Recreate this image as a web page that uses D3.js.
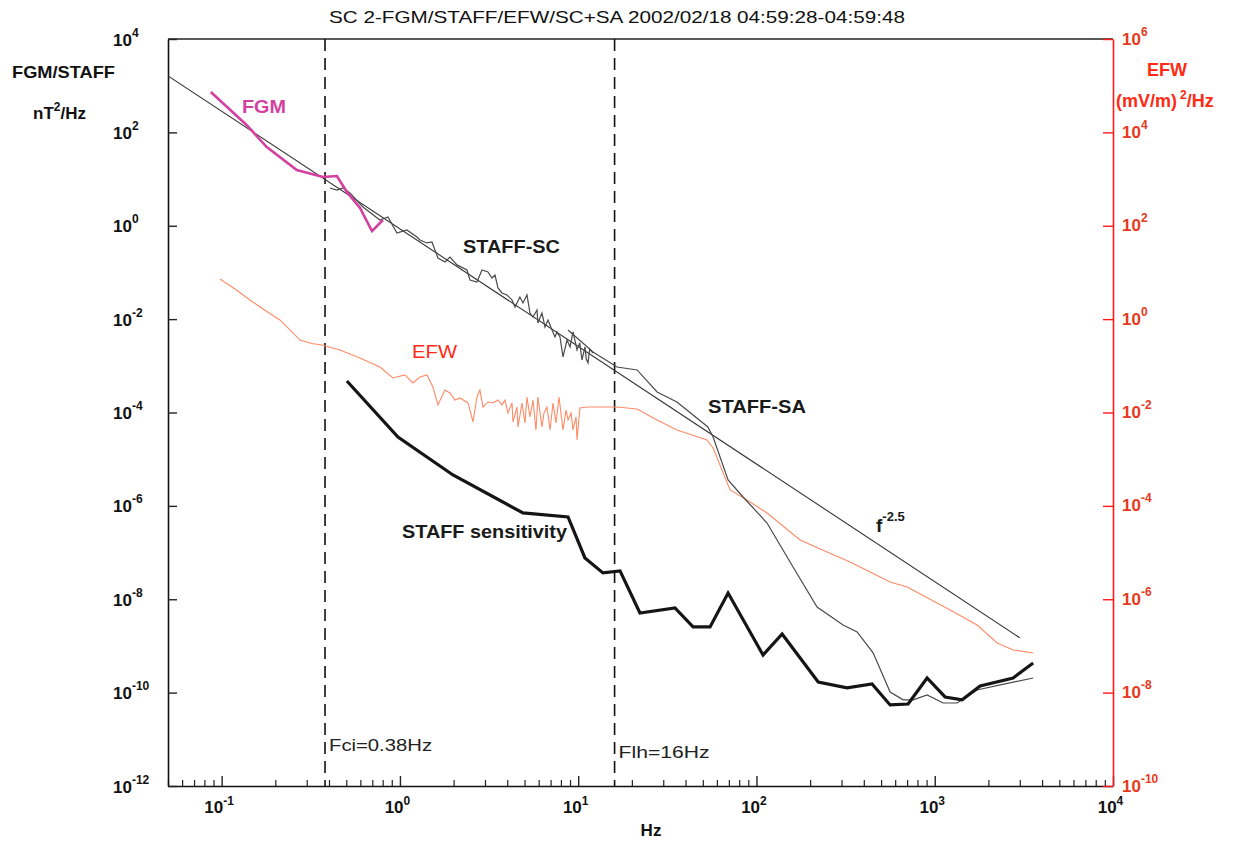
<!DOCTYPE html>
<html><head><meta charset="utf-8">
<script src="https://cdn.jsdelivr.net/npm/d3@7"></script>
<style>
body{margin:0;background:#fff}
svg{display:block}
text{font-family:"Liberation Sans",Arial,Helvetica,sans-serif}
</style>
</head><body>
<svg id="c" width="1234" height="841"></svg>
<script>
// ---------- data (frequency in Hz, spectral power) ----------
const xTickExps = [-1, 0, 1, 2, 3, 4];
const yLeftExps = [4, 2, 0, -2, -4, -6, -8, -10, -12];
const yRightExps = [6, 4, 2, 0, -2, -4, -6, -8, -10];
const markerFreqs = [0.38, 16];
const markerLabels = ["Fci=0.38Hz", "Flh=16Hz"];

const fgmFreq  = [0.0869, 0.138, 0.179, 0.264, 0.370, 0.443, 0.504, 0.597, 0.697, 0.803];
const fgmPower = [733, 144, 48.6, 15.6, 11.1, 11.6, 5.3, 2.4, 0.77, 1.33];

const lawFreq  = [0.05, 3000];
const lawPower = [1620, 1.5e-9];

const scFreq  = [0.405, 0.443, 0.479, 0.524, 0.620, 0.772, 0.857, 0.962, 1.094, 1.245, 1.295, 1.418, 1.513, 1.572, 1.634, 1.789, 1.909, 2.089, 2.377, 2.472, 2.705, 2.886, 3.118, 3.283, 3.413, 3.548, 3.736, 3.985, 4.254, 4.420, 4.710, 4.898, 5.160, 5.365, 5.576, 5.873, 5.943, 6.264, 6.511, 6.769, 7.129, 7.410, 7.603, 7.905, 8.218, 8.655, 8.997, 9.353, 9.850, 10.20, 10.50, 10.91, 11.10, 11.35, 11.60, 11.95, 12.11];
const scPower = [6.44, 5.83, 6.44, 5.03, 2.52, 1.33, 1.54, 0.70, 0.811, 0.574, 0.495, 0.428, 0.449, 0.303, 0.204, 0.168, 0.214, 0.145, 0.113, 0.0689, 0.0624, 0.113, 0.102, 0.076, 0.0882, 0.0465, 0.0363, 0.0329, 0.0257, 0.0182, 0.0298, 0.0222, 0.0329, 0.0135, 0.0111, 0.0157, 0.00826, 0.0135, 0.00679, 0.0096, 0.00585, 0.00414, 0.00531, 0.00414, 0.00155, 0.00357, 0.00253, 0.00531, 0.00218, 0.00310, 0.00133, 0.00253, 0.00140, 0.00115, 0.00230, 0.00198, 0.00188];

const saFreq  = [8.77, 12.11, 16.5, 21.4, 27.7, 35.8, 53.4, 57.1, 69.3, 84.1, 114.6, 160.4, 218.8, 306, 367, 451, 562, 665, 757, 906, 1114, 1336, 1729, 2328, 3565];
const saPower = [0.00585, 0.00198, 9.44e-4, 8.15e-4, 2.75e-4, 1.68e-4, 4.9e-5, 2.99e-5, 3.59e-6, 1.55e-6, 4.3e-7, 4.9e-8, 6.8e-9, 2.8e-9, 2.0e-9, 7.1e-10, 1.03e-10, 7.0e-11, 7.0e-11, 8.9e-11, 6.0e-11, 6.0e-11, 1.14e-10, 1.46e-10, 2.06e-10];

const sensFreq  = [0.504, 0.975, 1.984, 4.898, 8.77, 10.91, 13.77, 17.17, 22.2, 34.9, 44.1, 54.9, 69.3, 108.9, 139.3, 222, 322, 445, 562, 709, 906, 1143, 1425, 1798, 2754, 3565];
const sensPower = [4.73e-4, 2.99e-5, 4.59e-6, 7.05e-7, 5.78e-7, 7.66e-8, 3.66e-8, 4.04e-8, 5.08e-9, 6.5e-9, 2.55e-9, 2.55e-9, 1.36e-8, 6.4e-10, 1.8e-9, 1.69e-10, 1.26e-10, 1.53e-10, 5.44e-11, 5.7e-11, 2.06e-10, 8.07e-11, 7.0e-11, 1.39e-10, 2.06e-10, 4.3e-10];

// EFW in (mV/m)^2/Hz (right axis)
const efwFreq  = [0.0977, 0.120, 0.144, 0.175, 0.212, 0.245, 0.275, 0.320, 0.365, 0.461, 0.597, 0.772, 0.914, 1.067, 1.183, 1.295, 1.418, 1.531, 1.634, 1.789, 1.909, 2.036, 2.172, 2.409, 2.570, 2.705, 2.810, 2.923, 3.118, 3.325, 3.548, 3.736, 3.882, 4.037, 4.254, 4.306, 4.537, 4.593, 4.842, 5.028, 5.160, 5.365, 5.576, 5.796, 5.943, 6.264, 6.427, 6.683, 6.949, 7.225, 7.506, 7.804, 8.218, 8.545, 8.770, 9.120, 9.353, 9.725, 9.850, 10.23, 11.20, 16.5, 21.4, 27.7, 35.8, 52.8, 57.1, 71.1, 88.5, 114.6, 175.7, 249, 335, 562, 700, 1220, 1729, 2240, 2754, 3565];
const efwPower = [7.24, 4.3, 2.57, 1.55, 0.959, 0.56, 0.357, 0.30, 0.279, 0.218, 0.147, 0.0944, 0.0548, 0.0637, 0.0429, 0.0577, 0.0637, 0.0352, 0.0145, 0.0303, 0.0262, 0.0185, 0.0205, 0.0160, 0.00627, 0.0215, 0.0303, 0.0131, 0.0168, 0.0160, 0.0185, 0.0145, 0.0185, 0.00977, 0.0160, 0.00627, 0.0131, 0.00490, 0.0160, 0.00596, 0.0215, 0.00802, 0.0185, 0.00423, 0.0215, 0.00490, 0.00977, 0.0131, 0.00423, 0.0160, 0.00596, 0.0215, 0.00423, 0.0113, 0.00692, 0.00977, 0.00423, 0.00802, 0.00258, 0.0125, 0.0131, 0.0131, 0.0119, 0.00692, 0.00423, 0.00258, 0.00174, 2.19e-4, 1.34e-4, 7.05e-5, 1.86e-5, 1.03e-5, 6.29e-6, 2.34e-6, 1.83e-6, 5.89e-7, 2.81e-7, 1.16e-7, 8.2e-8, 7.06e-8];

// ---------- layout ----------
const L = 168, R = 1113, T = 39, B = 786;
const svg = d3.select("#c");

const x = d3.scaleLog().domain([0.05, 1e4]).range([L, R]);
const yL = d3.scaleLog().domain([1e-12, 1e4]).range([B, T]);
const yR = d3.scaleLog().domain([1e-10, 1e6]).range([B, T]);

const zip = (a, b) => a.map((v, i) => [v, b[i]]);

svg.append("defs").append("clipPath").attr("id", "clip")
  .append("rect").attr("x", L).attr("y", T).attr("width", R - L).attr("height", B - T);

function supLabel(sel, exp, expSize, dy) {
  sel.text(null);
  sel.append("tspan").text("10");
  sel.append("tspan").attr("font-size", expSize).attr("dy", dy).text(exp);
}

// bottom axis
const majorVals = xTickExps.map(e => Math.pow(10, e));
const minorVals = x.ticks().filter(v => Math.abs(Math.log10(v) - Math.round(Math.log10(v))) > 1e-6);

const gxMinor = svg.append("g").attr("transform", `translate(0,${B})`)
  .call(d3.axisBottom(x).tickValues(minorVals).tickSize(-6).tickSizeOuter(0).tickFormat(""));
gxMinor.select(".domain").remove();
gxMinor.selectAll(".tick line").attr("stroke", "#222").attr("stroke-width", 1.2);

const gx = svg.append("g").attr("transform", `translate(0,${B})`)
  .call(d3.axisBottom(x).tickValues(majorVals).tickSize(-10).tickSizeOuter(0));
gx.select(".domain").attr("stroke", "#111").attr("stroke-width", 1.6);
gx.selectAll(".tick line").attr("stroke", "#222").attr("stroke-width", 1.4);
gx.selectAll(".tick text")
  .attr("font-size", 17).attr("font-weight", "bold").attr("fill", "#111")
  .attr("dy", null).attr("y", 27).attr("x", -3).attr("text-anchor", "middle")
  .each(function(d, i) { supLabel(d3.select(this), String(xTickExps[i]), 12, -8); });

// left axis
const gyL = svg.append("g").attr("transform", `translate(${L},0)`)
  .call(d3.axisLeft(yL).tickValues(yLeftExps.map(e => Math.pow(10, e))).tickSize(-9).tickSizeOuter(0));
gyL.select(".domain").attr("stroke", "#111").attr("stroke-width", 1.6);
gyL.selectAll(".tick line").attr("stroke", "#222").attr("stroke-width", 1.4);
gyL.selectAll(".tick text")
  .attr("font-size", 17).attr("font-weight", "bold").attr("fill", "#111")
  .attr("text-anchor", "start").attr("x", 113 - L).attr("dy", 6)
  .each(function(d, i) { supLabel(d3.select(this), String(yLeftExps[i]), 12, -9); });

// top border
svg.append("line").attr("x1", L).attr("x2", R).attr("y1", T).attr("y2", T)
  .attr("stroke", "#222").attr("stroke-width", 1.6);

// right axis (red)
const gyR = svg.append("g").attr("transform", `translate(${R},0)`)
  .call(d3.axisRight(yR).tickValues(yRightExps.map(e => Math.pow(10, e))).tickSize(-10).tickSizeOuter(0));
gyR.select(".domain").attr("stroke", "#ff1a1a").attr("stroke-width", 1.6);
gyR.selectAll(".tick line").attr("stroke", "#ff1a1a").attr("stroke-width", 1.4);
gyR.selectAll(".tick text")
  .attr("font-size", 17).attr("font-weight", "bold").attr("fill", "#e8391c")
  .attr("text-anchor", "start").attr("x", 1122 - R).attr("dy", 5)
  .each(function(d, i) { supLabel(d3.select(this), String(yRightExps[i]), 12, -9); });

// dashed marker lines
svg.selectAll(".marker").data(markerFreqs).join("line")
  .attr("x1", d => x(d)).attr("x2", d => x(d)).attr("y1", T).attr("y2", B)
  .attr("stroke", "#111").attr("stroke-width", 1.6).attr("stroke-dasharray", "12,7");
svg.selectAll(".mlabel").data(markerFreqs).join("text")
  .attr("x", d => x(d) + 4).attr("y", (d, i) => i === 0 ? 751 : 758)
  .attr("font-size", 17).attr("fill", "#222")
  .attr("textLength", (d, i) => i === 0 ? 103 : 91).attr("lengthAdjust", "spacingAndGlyphs")
  .text((d, i) => markerLabels[i]);

// lines
const plot = svg.append("g").attr("clip-path", "url(#clip)");
const lineL = d3.line().x(d => x(d[0])).y(d => yL(d[1]));
const lineR = d3.line().x(d => x(d[0])).y(d => yR(d[1]));

plot.append("path").datum(zip(efwFreq, efwPower)).attr("d", lineR)
  .attr("fill", "none").attr("stroke", "#ff8a66").attr("stroke-width", 1.1);
plot.append("path").datum(zip(lawFreq, lawPower)).attr("d", lineL)
  .attr("fill", "none").attr("stroke", "#333").attr("stroke-width", 1.1);
plot.append("path").datum(zip(scFreq, scPower)).attr("d", lineL)
  .attr("fill", "none").attr("stroke", "#4a4a4a").attr("stroke-width", 1.2);
plot.append("path").datum(zip(saFreq, saPower)).attr("d", lineL)
  .attr("fill", "none").attr("stroke", "#4a4a4a").attr("stroke-width", 1.2);
plot.append("path").datum(zip(sensFreq, sensPower)).attr("d", lineL)
  .attr("fill", "none").attr("stroke", "#151515").attr("stroke-width", 3.2)
  .attr("stroke-linejoin", "miter");
plot.append("path").datum(zip(fgmFreq, fgmPower)).attr("d", lineL)
  .attr("fill", "none").attr("stroke", "#d4409f").attr("stroke-width", 2.6);

// texts
svg.append("text").attr("x", 329).attr("y", 23).attr("font-size", 17).attr("fill", "#111")
  .attr("textLength", 576).attr("lengthAdjust", "spacingAndGlyphs")
  .text("SC 2-FGM/STAFF/EFW/SC+SA  2002/02/18 04:59:28-04:59:48");

svg.append("text").attr("x", 12).attr("y", 78).attr("font-size", 17).attr("font-weight", "bold")
  .attr("fill", "#111").attr("textLength", 103).attr("lengthAdjust", "spacingAndGlyphs").text("FGM/STAFF");
const nt = svg.append("text").attr("x", 33).attr("y", 119).attr("font-size", 17)
  .attr("font-weight", "bold").attr("fill", "#111");
nt.append("tspan").text("nT");
nt.append("tspan").attr("font-size", 12).attr("dy", -8).text("2");
nt.append("tspan").attr("dy", 8).text("/Hz");

svg.append("text").attr("x", 1147).attr("y", 76).attr("font-size", 18).attr("font-weight", "bold")
  .attr("fill", "#ff2a14").text("EFW");
const mv = svg.append("text").attr("x", 1116).attr("y", 107).attr("font-size", 18)
  .attr("font-weight", "bold").attr("fill", "#ff2a14");
mv.append("tspan").text("(mV/m)");
mv.append("tspan").attr("font-size", 12).attr("dy", -8).attr("dx", 3).text("2");
mv.append("tspan").attr("dy", 8).text("/Hz");

svg.append("text").attr("x", 242).attr("y", 113).attr("font-size", 18).attr("font-weight", "bold")
  .attr("fill", "#d4409f").attr("textLength", 44).attr("lengthAdjust", "spacingAndGlyphs").text("FGM");
svg.append("text").attr("x", 463).attr("y", 253).attr("font-size", 18).attr("font-weight", "bold")
  .attr("fill", "#1a1a1a").attr("textLength", 97).attr("lengthAdjust", "spacingAndGlyphs").text("STAFF-SC");
svg.append("text").attr("x", 412).attr("y", 358).attr("font-size", 18)
  .attr("fill", "#ff2a14").attr("textLength", 45).attr("lengthAdjust", "spacingAndGlyphs").text("EFW");
svg.append("text").attr("x", 402).attr("y", 538).attr("font-size", 18).attr("font-weight", "bold")
  .attr("fill", "#1a1a1a").attr("textLength", 165).attr("lengthAdjust", "spacingAndGlyphs").text("STAFF sensitivity");
svg.append("text").attr("x", 708).attr("y", 413).attr("font-size", 18).attr("font-weight", "bold")
  .attr("fill", "#1a1a1a").attr("textLength", 98).attr("lengthAdjust", "spacingAndGlyphs").text("STAFF-SA");
const fl = svg.append("text").attr("x", 876).attr("y", 532).attr("font-size", 19).attr("font-weight", "bold")
  .attr("fill", "#1a1a1a");
fl.append("tspan").text("f");
fl.append("tspan").attr("font-size", 13).attr("dy", -11).text("-2.5");

svg.append("text").attr("x", 651).attr("y", 836).attr("font-size", 17).attr("font-weight", "bold")
  .attr("text-anchor", "middle").attr("fill", "#111").text("Hz");
</script>
</body></html>
